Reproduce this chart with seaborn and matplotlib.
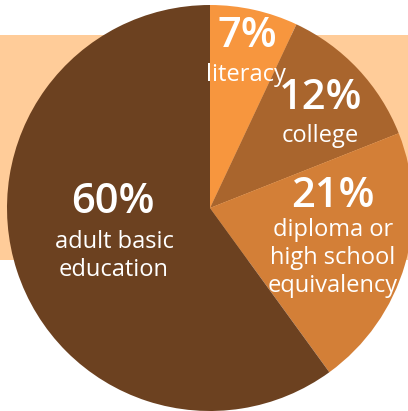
import matplotlib
matplotlib.use("Agg")
import matplotlib.pyplot as plt
import seaborn as sns
from matplotlib.patches import Rectangle

# Daten
categories = ["literacy", "college", "diploma or\nhigh school\nequivalency", "adult basic\neducation"]
shares = [7, 12, 21, 60]
colors = ["#F7963E", "#A9652D", "#D37F37", "#6C4120"]

# Textpositionen in Pixel (x, y von oben): Prozentzahl und Beschreibung
pct_xy = [(247, 36), (321, 98), (333, 196), (113, 202)]
desc_xy = [(246, 75), (320, 136), (333, 258), (114, 256)]

W, H = 408, 411
sns.set_theme(style="white")
plt.rcParams["font.family"] = ["Open Sans", "DejaVu Sans"]

fig = plt.figure(figsize=(W / 100, H / 100), dpi=100)
ax = fig.add_axes([0, 0, 1, 1])

# heller Hintergrundstreifen
ax.add_patch(Rectangle((0, H - 260), W, 225, color="#FFCC99", zorder=0, linewidth=0))

ax.pie(shares, colors=colors, startangle=90, counterclock=False,
       center=(210, H - 208), radius=203, frame=True,
       wedgeprops={"linewidth": 0})
ax.set_xlim(0, W)
ax.set_ylim(0, H)
ax.set_aspect("equal")
ax.axis("off")

for share, cat, (px, py), (dx, dy) in zip(shares, categories, pct_xy, desc_xy):
    ax.text(px, H - py, f"{share}%", color="white", fontsize=30, fontweight="semibold",
            ha="center", va="center", zorder=5)
    ax.text(dx, H - dy, cat, color="white", fontsize=17, ha="center", va="center",
            linespacing=1.2, zorder=5)

fig.savefig("out.png", dpi=100)
